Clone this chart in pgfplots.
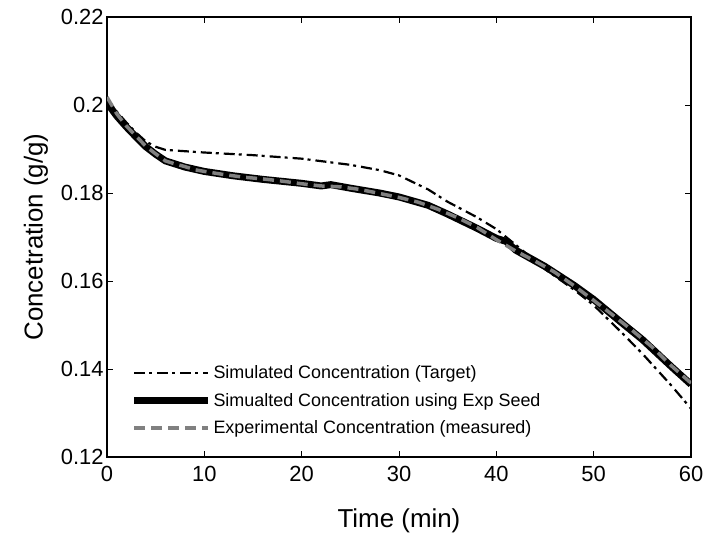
\documentclass[border=0pt]{standalone}
\usepackage{pgfplots}
\pgfplotsset{compat=1.18}
\usepackage{fontspec}
\setmainfont{Liberation Sans}
\definecolor{expgray}{RGB}{128,128,128}
\begin{document}
\begin{tikzpicture}
\begin{axis}[
  name=ax,
  scale only axis,
  width=584bp, height=440bp,
  xmin=0, xmax=60, ymin=0.12, ymax=0.22,
  xtick={0,10,20,30,40,50,60},
  ytick={0.12,0.14,0.16,0.18,0.2,0.22},
  yticklabels={0.12,0.14,0.16,0.18,0.2,0.22},
  tick align=inside,
  major tick length=6bp,
  tick style={black, line width=0.9pt},
  axis line style={line width=1.4pt},
  /pgf/number format/assume math mode=true,
  ticklabel style={font=\fontsize{22}{26}\selectfont},
  xticklabel style={yshift=-6bp},
  xlabel={Time (min)},
  ylabel={Concetration (g/g)},
  label style={font=\fontsize{26}{30}\selectfont},
  xlabel style={yshift=-20bp},
  ylabel style={yshift=6bp},
  legend cell align=left,
  legend style={draw=none, fill=none, at={(0.04,0.045)}, anchor=south west,
    font=\fontsize{18}{21}\selectfont, row sep=9bp, inner sep=0pt,
    /tikz/every even column/.append style={column sep=6bp}},
  legend image code/.code={\draw[#1] (0bp,0bp) -- (74bp,0bp);},
]
\addplot[black, line width=2.2pt, dash pattern=on 11bp off 4bp on 3bp off 5bp] coordinates {
(0,0.2015) (1,0.1985) (2,0.1960) (3,0.1937) (4,0.1917) (5,0.1905) (6,0.1898) (8,0.1895) (10,0.1892)
(15,0.1886) (20,0.1878) (25,0.1864) (28,0.1852) (30,0.1840) (33,0.1808) (35,0.1780) (38,0.1745)
(40,0.1718) (42,0.1682) (45,0.1627) (48,0.1580) (50,0.1545) (53,0.1480) (55,0.1435) (58,0.1362) (60,0.1310)
};
\addlegendentry{Simulated Concentration (Target)}
\addplot[black, line width=7pt] coordinates {
(0,0.2005) (1,0.1975) (2,0.1950) (3,0.1927) (4,0.1905) (5,0.1888) (6,0.1873) (8,0.1859) (10,0.1849)
(13,0.1839) (16,0.1831) (20,0.1822) (22,0.1816) (23,0.1819) (25,0.1811) (28,0.1800) (30,0.1791) (33,0.1772) (35,0.1752)
(38,0.1720) (40,0.1697) (41,0.1690) (42,0.1670) (45,0.1633) (48,0.1590) (50,0.1558) (53,0.1503) (55,0.1467)
(58,0.1405) (60,0.1365)
};
\addlegendentry{Simualted Concentration using Exp Seed}
\addplot[expgray, line width=3.5pt, dash pattern=on 11bp off 6bp] coordinates {
(0,0.2018) (1,0.1980) (2,0.1952) (3,0.1929) (4,0.1906) (5,0.1889) (6,0.1873) (7,0.1866) (8,0.1860) (9,0.1853) (10,0.1849)
(12,0.1842) (14,0.1836) (16,0.1832) (18,0.1827) (20,0.1821) (22,0.1816) (24,0.1814) (26,0.1808) (28,0.1799) (30,0.1790)
(32,0.1779) (34,0.1763) (36,0.1744) (38,0.1722) (40,0.1694) (42,0.1668) (44,0.1645) (46,0.1620) (48,0.1589) (50,0.1556)
(52,0.1522) (54,0.1487) (56,0.1450) (58,0.1407) (60,0.1368)
};
\addlegendentry{Experimental Concentration (measured)}
\end{axis}
\pgfresetboundingbox
\path ([shift={(-107bp,-78bp)}]ax.south west) rectangle ([shift={(17bp,17bp)}]ax.north east);
\end{tikzpicture}
\end{document}
